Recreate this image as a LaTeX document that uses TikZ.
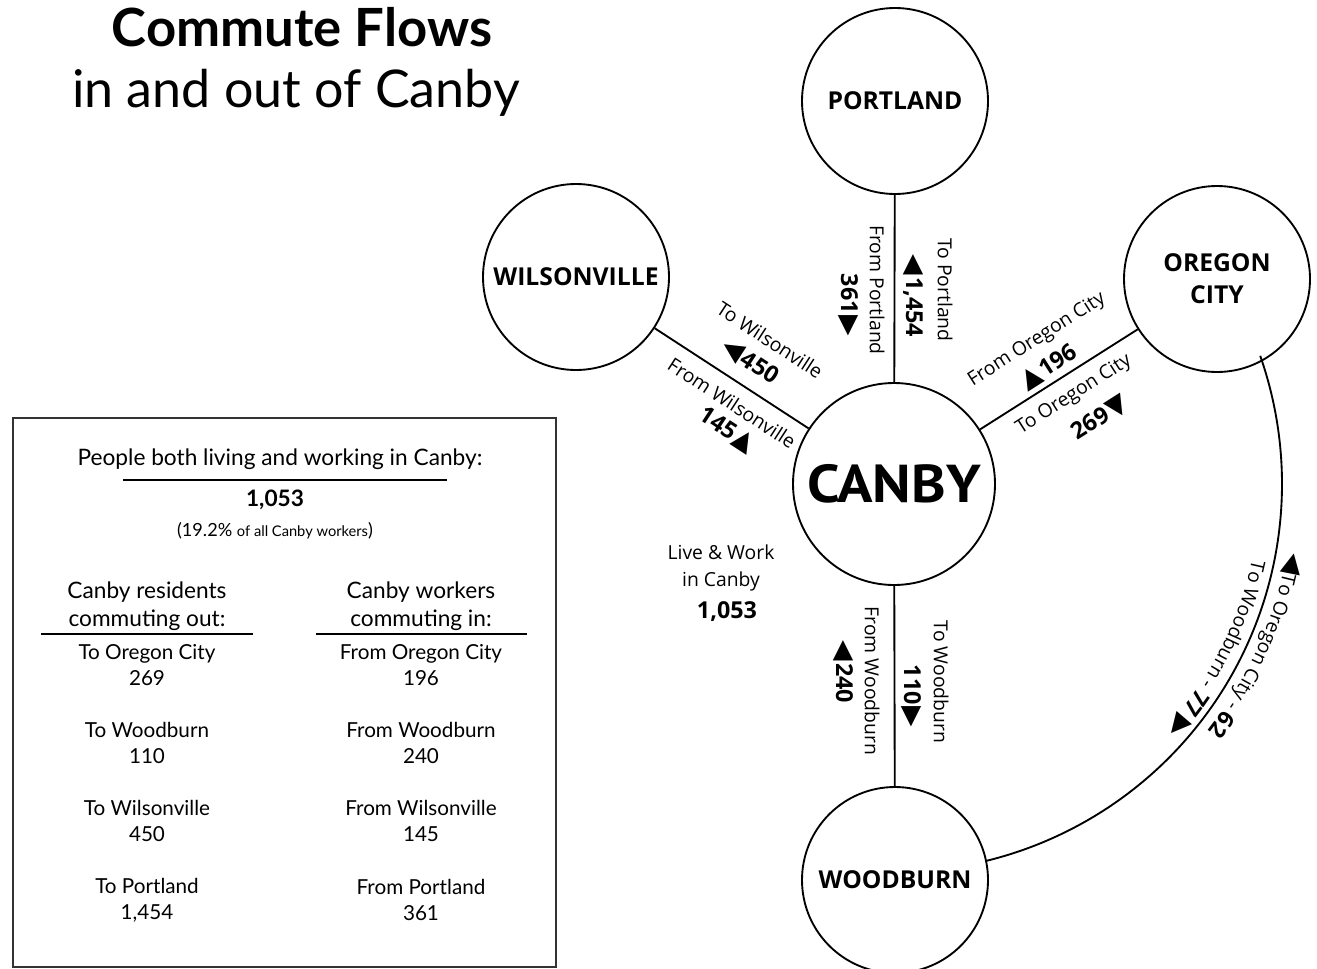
\documentclass[tikz,border=0pt]{standalone}
\usepackage{fontspec}
\setmainfont{Lato}
\newfontfamily\diag{Open Sans}
\newfontfamily\hubfont{PT Sans}
\newfontfamily\ttl{Lato}
\newfontfamily\sym{DejaVu Sans}
\usetikzlibrary{decorations.text}

% flow direction markers, with a small gap to the figure they mark
\newcommand\arrL{{\sym\fontsize{20}{20}\selectfont ◀}\kern1.5pt}
\newcommand\arrR{\kern1.5pt{\sym\fontsize{20}{20}\selectfont ▶}}
\newcommand\arrU{{\sym\fontsize{20}{20}\selectfont ▲}}
\newcommand\arrD{{\sym\fontsize{20}{20}\selectfont ▼}}

\tikzset{
  place/.style={circle, draw, line width=1.4pt, inner sep=0pt, minimum size=139.5pt,
    align=center, font=\diag\bfseries\fontsize{18.5}{24}\selectfont},
  hub/.style={place, minimum size=151.5pt, font=\hubfont\bfseries\fontsize{40}{44}\selectfont},
  link/.style={line width=1.4pt},
  flowlbl/.style={inner sep=0pt, align=center, font=\diag\fontsize{14.5}{20}\selectfont},
  flownum/.style={inner sep=0pt, font=\diag\bfseries\fontsize{17.5}{19}\selectfont},
  headline/.style={inner sep=0pt, font=\ttl\fontsize{40}{44}\selectfont},
  paneltxt/.style={inner sep=0pt, align=center, font=\ttl\fontsize{15.5}{19.5}\selectfont},
  panelhead/.style={inner sep=0pt, align=center, font=\ttl\fontsize{17}{21}\selectfont},
  rule/.style={line width=1.4pt},
  frame/.style={line width=1.5pt, draw=black!80}
}

\begin{document}
\begin{tikzpicture}[x=0.75pt, y=0.75pt]
\useasboundingbox (0,0) rectangle (1317,-968);
\clip (0,0) rectangle (1317,-968);

% title
\node[headline, font=\ttl\bfseries\fontsize{39.5}{44}\selectfont] (title1) at (302,-27) {Commute Flows};
\node[headline, font=\ttl\fontsize{39}{44}\selectfont] (title2) at (296,-93) {in and out of Canby};

% places
\node[hub]   (canby)    at (894,-484) {\scalebox{1.1}[1]{CANBY}};
\node[place] (portland) at (895,-101) {PORTLAND};
\node[place] (wils)     at (576,-277) {WILSONVILLE};
\node[place] (oc)       at (1217,-279) {OREGON\\CITY};
\node[place] (wood)     at (895,-880) {WOODBURN};

% connectors
\draw[link] (canby) -- (portland);
\draw[link] (canby) -- (wils);
\draw[link] (canby) -- (oc);
\draw[link] (canby) -- (wood);
\draw[link] (canby.center) ++(19.3:388) arc[start angle=19.3, end angle=-76.4, radius=388];

% Portland flows
\node[flowlbl, rotate=-90] (toport)   at (945,-290) {To Portland};
\node[flownum, rotate=-90] (toportn)  at (913,-296) {\arrL 1,454};
\node[flowlbl, rotate=-90] (fromport) at (877,-290) {From Portland};
\node[flownum, rotate=-90] (fromportn) at (848,-305) {361\arrR};

% Woodburn flows
\node[flowlbl, rotate=-90] (towood)   at (941,-682) {To Woodburn};
\node[flownum, rotate=-90] (towoodn)  at (911,-696) {110\arrR};
\node[flowlbl, rotate=-90] (fromwood) at (872,-681) {From Woodburn};
\node[flownum, rotate=-90] (fromwoodn) at (843,-672) {\arrL 240};

% Wilsonville flows
\node[flowlbl, rotate=-33.06] (towils)   at (770,-340) {To Wilsonville};
\node[flownum, rotate=-33.06] (towilsn)  at (750,-362) {\arrL 450};
\node[flowlbl, rotate=-33.06] (fromwils) at (732,-403) {From Wilsonville};
\node[flownum, rotate=-33.06] (fromwilsn) at (727,-430) {145\kern1pt\arrU};

% Oregon City flows
\node[flowlbl, rotate=32.5] (fromoc)  at (1037,-340) {From Oregon City};
\node[flownum, rotate=32.5] (fromocn) at (1049,-367) {\arrU\kern1pt 196};
\node[flowlbl, rotate=32.5] (tooc)    at (1074,-395) {To Oregon City};
\node[flownum, rotate=32.5] (toocn)   at (1100,-418) {269\kern1pt\arrD};

% Oregon City -- Woodburn flows along the arc
\path[decorate, decoration={text along path, text align=center,
  text={|\sym\fontsize{20}{20}\selectfont|◀|\diag\fontsize{14.5}{16}\selectfont|To Oregon City - |\diag\bfseries\fontsize{17}{18}\selectfont|62}}]
  (canby.center) ++(1:399) arc[start angle=1, end angle=-49, radius=399];
\path[decorate, decoration={text along path, text align=center,
  text={|\diag\fontsize{14.5}{16}\selectfont|To Woodburn - |\diag\bfseries\fontsize{17}{18}\selectfont|77 |\sym\fontsize{20}{20}\selectfont|▶}}]
  (canby.center) ++(-2:366) arc[start angle=-2, end angle=-52, radius=366];

% local workers
\node[flowlbl] (live)  at (721,-568) {Live \& Work\\in Canby};
\node[flownum] (liven) at (727,-612) {1,053};

% summary panel
\draw[frame] (13,-418) rectangle (556,-967);
\node[panelhead] (both) at (280,-459) {People both living and working in Canby:};
\draw[rule] (123,-480) -- (447,-480);
\node[inner sep=0pt, font=\ttl\bfseries\fontsize{17}{18}\selectfont] (bothn) at (275,-500) {1,053};
\node[inner sep=0pt, font=\ttl\fontsize{13.6}{15}\selectfont] (share) at (275,-531)
  {(19.2\% {\fontsize{11}{12}\selectfont of all Canby workers})};

\node[panelhead] (outhead) at (147,-606) {Canby residents\\commuting out:};
\node[panelhead] (inhead)  at (421,-606) {Canby workers\\commuting in:};
\draw[rule] (41,-634) -- (253,-634);
\draw[rule] (316,-634) -- (527,-634);

\node[paneltxt] (out1) at (147,-665) {To Oregon City\\269};
\node[paneltxt] (out2) at (147,-743) {To Woodburn\\110};
\node[paneltxt] (out3) at (147,-821) {To Wilsonville\\450};
\node[paneltxt] (out4) at (147,-900) {To Portland\\1,454};

\node[paneltxt] (in1) at (421,-665) {From Oregon City\\196};
\node[paneltxt] (in2) at (421,-743) {From Woodburn\\240};
\node[paneltxt] (in3) at (421,-821) {From Wilsonville\\145};
\node[paneltxt] (in4) at (421,-900) {From Portland\\361};
\end{tikzpicture}
\end{document}
